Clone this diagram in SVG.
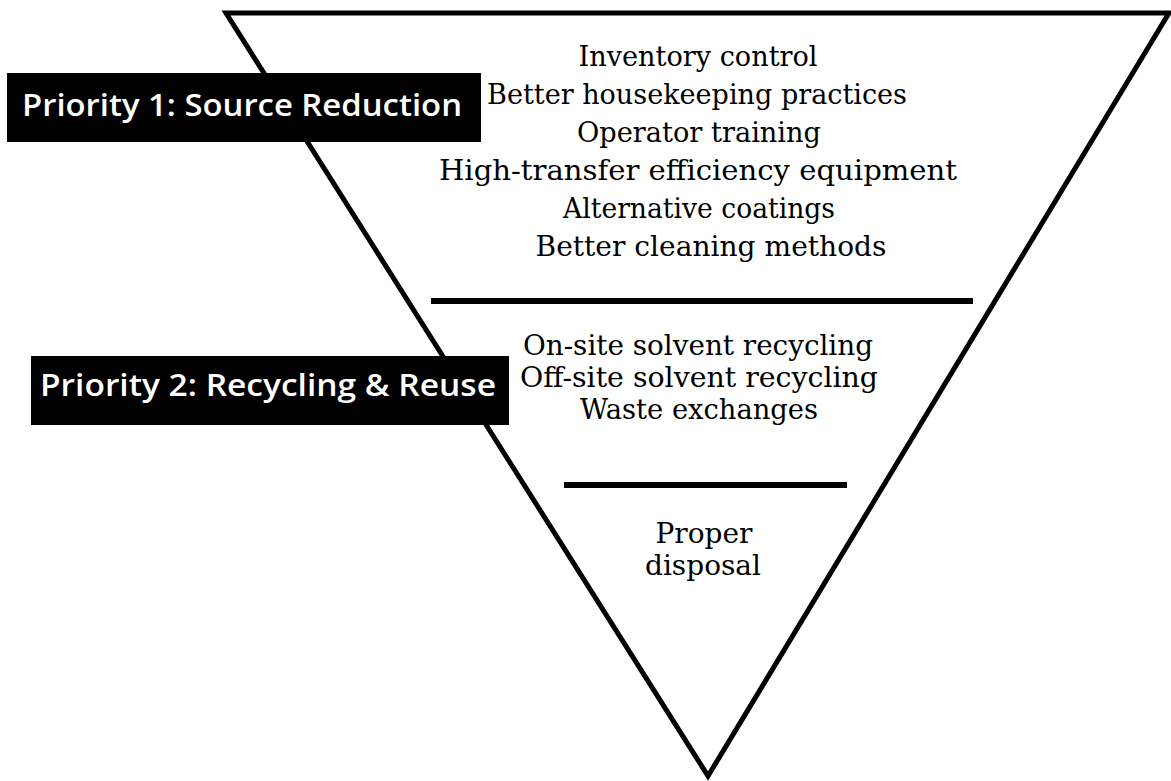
<svg xmlns="http://www.w3.org/2000/svg" width="1171" height="781" viewBox="0 0 1171 781">
  <style>
    .edge { stroke: #000; stroke-width: 5; fill: none; stroke-linejoin: miter; }
    .sep { stroke: #000; stroke-width: 6; }
    .box { fill: #000; }
    .lbl { font-family: "Open Sans", "DejaVu Sans", sans-serif; font-weight: 600; font-size: 31px; fill: #fff; text-anchor: middle; }
    .item { font-family: "DejaVu Serif", "Liberation Serif", serif; font-size: 28.5px; fill: #000; text-anchor: middle; }
    .item2 { font-family: "DejaVu Serif", "Liberation Serif", serif; font-size: 28px; fill: #000; text-anchor: middle; }
  </style>
  <rect width="1171" height="781" fill="#fff"/>
  <g id="connectors">
    <polygon class="edge" points="226,13 1169,13 708,776"/>
    <line class="sep" x1="431" y1="301" x2="973" y2="301"/>
    <line class="sep" x1="564" y1="485" x2="847" y2="485"/>
  </g>
  <g id="priority1">
    <rect class="box" x="7" y="73" width="474" height="69"/>
    <text class="lbl" x="242" y="116" textLength="440" lengthAdjust="spacingAndGlyphs">Priority 1: Source Reduction</text>
  </g>
  <g id="priority2">
    <rect class="box" x="31" y="356" width="478" height="69"/>
    <text class="lbl" x="268" y="396" textLength="456" lengthAdjust="spacingAndGlyphs">Priority 2: Recycling &amp; Reuse</text>
  </g>
  <g id="source-reduction-items">
    <text class="item" x="698" y="66" textLength="239" lengthAdjust="spacingAndGlyphs">Inventory control</text>
    <text class="item" x="697" y="104" textLength="420" lengthAdjust="spacingAndGlyphs">Better housekeeping practices</text>
    <text class="item" x="699" y="142" textLength="244" lengthAdjust="spacingAndGlyphs">Operator training</text>
    <text class="item" x="698" y="180" textLength="518" lengthAdjust="spacingAndGlyphs">High-transfer efficiency equipment</text>
    <text class="item" x="699" y="218" textLength="272" lengthAdjust="spacingAndGlyphs">Alternative coatings</text>
    <text class="item" x="711" y="256" textLength="351" lengthAdjust="spacingAndGlyphs">Better cleaning methods</text>
  </g>
  <g id="recycling-items">
    <text class="item2" x="698" y="355" textLength="350" lengthAdjust="spacingAndGlyphs">On-site solvent recycling</text>
    <text class="item2" x="699" y="387" textLength="358" lengthAdjust="spacingAndGlyphs">Off-site solvent recycling</text>
    <text class="item2" x="699" y="419" textLength="238" lengthAdjust="spacingAndGlyphs">Waste exchanges</text>
  </g>
  <g id="disposal">
    <text class="item2" x="704" y="543">Proper</text>
    <text class="item2" x="703" y="575">disposal</text>
  </g>
</svg>
